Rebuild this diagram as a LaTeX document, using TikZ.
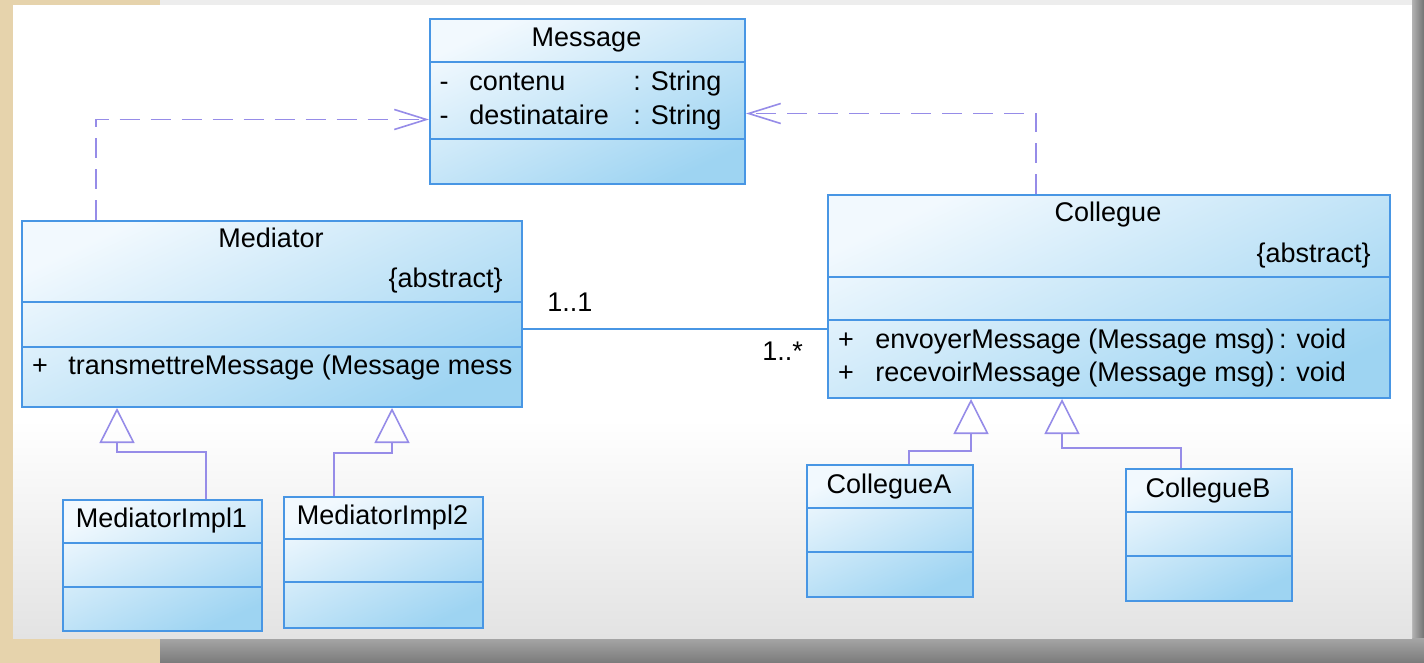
\documentclass[tikz,border=0pt]{standalone}
\usepackage{fontspec}
\setmainfont{Liberation Sans}
\usetikzlibrary{arrows.meta,calc,positioning}

\definecolor{umlblue}{RGB}{72,150,228}
\definecolor{umltop}{RGB}{242,249,254}
\definecolor{umlbot}{RGB}{158,212,242}
\definecolor{umlpurple}{RGB}{150,140,232}
\definecolor{bgbeige}{RGB}{230,211,172}

\tikzset{
  classbox/.style={draw=umlblue, line width=1pt, top color=umltop, bottom color=umlbot,
    shading angle=25, anchor=north west, inner sep=0pt},
  boxline/.style={draw=umlblue, line width=1pt},
  dep/.style={draw=umlpurple, line width=0.8pt, dash pattern=on 10pt off 5.5pt,
    -{Straight Barb[length=16pt,width=10pt]}},
  inherit/.style={draw=umlpurple, line width=0.8pt,
    -{Triangle[open,length=17.5pt,width=17.5pt]}},
  assoc/.style={draw=umlblue, line width=0.8pt},
  cname/.style={anchor=base, inner sep=0pt},
  member/.style={anchor=base west, inner sep=0pt},
  tag/.style={anchor=base east, inner sep=0pt},
  vis/.style={anchor=base, inner sep=0pt}
}

\begin{document}
\begin{tikzpicture}[x=0.5pt, y=-0.5pt, font=\fontsize{13.5pt}{16pt}\selectfont]
  \useasboundingbox (0,0) rectangle (1424,663);
  % screen around the page
  \fill[bgbeige] (0,0) rectangle (1424,663);
  \fill[black!7] (160,0) rectangle (1424,6);
  \shade[left color=black!30, right color=black!55] (1412,0) rectangle (1424,663);
  \shade[top color=black!35, bottom color=black!52] (160,638) rectangle (1424,663);
  \fill[white] (13,5) rectangle (1412,420);
  \shade[top color=white, bottom color=black!11] (13,420) rectangle (1412,638);

  % classes
  \node[classbox, minimum width=157.5pt, minimum height=82.5pt] (msg) at (429,18) {};
  \draw[boxline] (msg.west |- 0,62) -- (msg.east |- 0,62);
  \draw[boxline] (msg.west |- 0,139) -- (msg.east |- 0,139);
  \node[cname] (msgname) at (586.5,47) {Message};
  \node[vis] (msgv1) at (444,91) {-};
  \node[member] (msga1) at (469,91) {contenu};
  \node[member] (msgt1) at (633,91) {: String};
  \node[vis] (msgv2) at (444,125) {-};
  \node[member] (msga2) at (469,125) {destinataire};
  \node[member] (msgt2) at (633,125) {: String};

  \node[classbox, minimum width=250pt, minimum height=93pt] (med) at (21,220) {};
  \draw[boxline] (med.west |- 0,302) -- (med.east |- 0,302);
  \draw[boxline] (med.west |- 0,347) -- (med.east |- 0,347);
  \node[cname] (medname) at (271,248) {Mediator};
  \node[tag] (medtag) at (503,287) {\{abstract\}};
  \node[vis] (medv1) at (40,374) {+};
  \node[member] (medop1) at (68,374) {transmettreMessage (Message mess};

  \node[classbox, minimum width=281pt, minimum height=101.5pt] (col) at (827,194) {};
  \draw[boxline] (col.west |- 0,277) -- (col.east |- 0,277);
  \draw[boxline] (col.west |- 0,320) -- (col.east |- 0,320);
  \node[cname] (colname) at (1108,222) {Collegue};
  \node[tag] (coltag) at (1371,263) {\{abstract\}};
  \node[vis] (colv1) at (846,348) {+};
  \node[member] (colop1) at (875,348) {envoyerMessage (Message msg)\,: void};
  \node[vis] (colv2) at (846,381) {+};
  \node[member] (colop2) at (875,381) {recevoirMessage (Message msg)\,: void};

  \node[classbox, minimum width=99.5pt, minimum height=65.5pt] (impl1) at (62,499) {};
  \draw[boxline] (impl1.west |- 0,543) -- (impl1.east |- 0,543);
  \draw[boxline] (impl1.west |- 0,587) -- (impl1.east |- 0,587);
  \node[cname] (impl1name) at (161.5,527) {MediatorImpl1};

  \node[classbox, minimum width=99.5pt, minimum height=65.5pt] (impl2) at (283,496) {};
  \draw[boxline] (impl2.west |- 0,539) -- (impl2.east |- 0,539);
  \draw[boxline] (impl2.west |- 0,582) -- (impl2.east |- 0,582);
  \node[cname] (impl2name) at (382.5,524) {MediatorImpl2};

  \node[classbox, minimum width=83pt, minimum height=66pt] (colA) at (806,464) {};
  \draw[boxline] (colA.west |- 0,508) -- (colA.east |- 0,508);
  \draw[boxline] (colA.west |- 0,552) -- (colA.east |- 0,552);
  \node[cname] (colAname) at (889,493) {CollegueA};

  \node[classbox, minimum width=83pt, minimum height=66pt] (colB) at (1125,468) {};
  \draw[boxline] (colB.west |- 0,512) -- (colB.east |- 0,512);
  \draw[boxline] (colB.west |- 0,556) -- (colB.east |- 0,556);
  \node[cname] (colBname) at (1208,497) {CollegueB};

  % dependencies
  \draw[dep] ($(med.north west)+(75,0)$) |- ($(msg.west)+(0,18)$);
  \draw[dep] ($(col.north west)+(209,0)$) |- ($(msg.east)+(0,12)$);

  % association
  \draw[assoc] (med.east |- 0,329) -- (col.west |- 0,329);
  \node[member] (multmed) at (547,312) {1..1};
  \node[member] (multcol) at (762,360) {1..*};

  % generalizations
  \draw[inherit] ($(impl1.north west)+(144,0)$) -- ++(0,-47) -| ($(med.south west)+(96,0)$);
  \draw[inherit] ($(impl2.north west)+(51,0)$) -- ++(0,-43) -| ($(med.south west)+(371,0)$);
  \draw[inherit] ($(colA.north west)+(103,0)$) -- ++(0,-13) -| ($(col.south west)+(144,0)$);
  \draw[inherit] ($(colB.north west)+(56,0)$) -- ++(0,-20) -| ($(col.south west)+(235,0)$);
\end{tikzpicture}
\end{document}
